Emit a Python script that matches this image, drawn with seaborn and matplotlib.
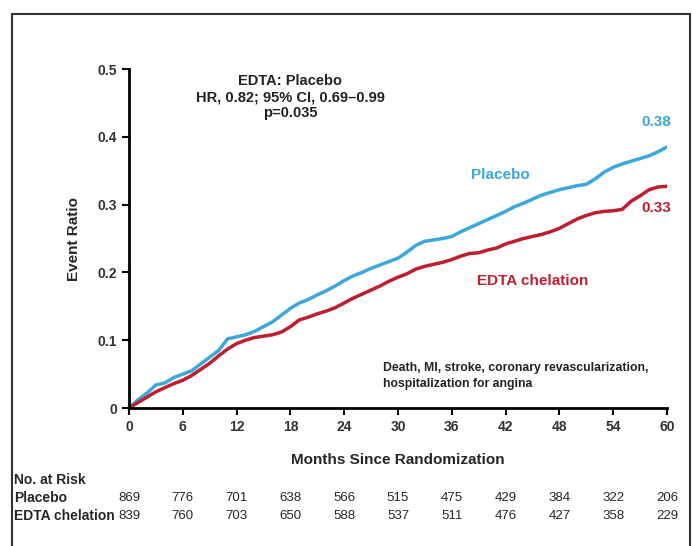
import numpy as np
import pandas as pd
import matplotlib
matplotlib.use('Agg')
import matplotlib.pyplot as plt
import seaborn as sns
from matplotlib.patches import Rectangle

# months since randomization and cumulative event ratio
months = [0, 1, 2, 3, 4, 5, 6, 7, 8, 9, 10, 11, 12, 13, 14, 15, 16, 17, 18, 19,
          20, 21, 22, 23, 24, 25, 26, 27, 28, 29, 30, 31, 32, 33, 34, 35, 36, 37, 38, 39,
          40, 41, 42, 43, 44, 45, 46, 47, 48, 49, 50, 51, 52, 53, 54, 55, 56, 57, 58, 59, 60]
placebo = [0, 0.012, 0.022, 0.034, 0.037, 0.045, 0.050, 0.055, 0.065, 0.075,
           0.085, 0.102, 0.105, 0.108, 0.113, 0.120, 0.127, 0.137, 0.147, 0.155,
           0.160, 0.167, 0.173, 0.180, 0.188, 0.195, 0.200, 0.206, 0.211, 0.216,
           0.221, 0.230, 0.240, 0.246, 0.248, 0.250, 0.253, 0.260, 0.266, 0.272,
           0.278, 0.284, 0.290, 0.297, 0.302, 0.308, 0.314, 0.318, 0.322, 0.325,
           0.328, 0.330, 0.338, 0.348, 0.355, 0.360, 0.364, 0.368, 0.372, 0.378, 0.385]
edta = [0, 0.008, 0.016, 0.024, 0.030, 0.036, 0.041, 0.048, 0.057, 0.066,
        0.077, 0.087, 0.095, 0.100, 0.104, 0.106, 0.108, 0.112, 0.120, 0.130,
        0.134, 0.139, 0.143, 0.148, 0.155, 0.162, 0.168, 0.174, 0.180, 0.187,
        0.193, 0.198, 0.205, 0.209, 0.212, 0.215, 0.219, 0.224, 0.228, 0.229,
        0.233, 0.236, 0.242, 0.246, 0.250, 0.253, 0.256, 0.260, 0.265, 0.272,
        0.279, 0.284, 0.288, 0.290, 0.291, 0.293, 0.305, 0.313, 0.322, 0.326, 0.327]

risk_months = [0, 6, 12, 18, 24, 30, 36, 42, 48, 54, 60]
risk_placebo = [869, 776, 701, 638, 566, 515, 475, 429, 384, 322, 206]
risk_edta = [839, 760, 703, 650, 588, 537, 511, 476, 427, 358, 229]

blue = '#3BA7DA'
red = '#BE1E2D'

sns.set_style('white')
plt.rcParams['font.family'] = ['Liberation Sans', 'DejaVu Sans']

df = pd.DataFrame({'Month': months, 'Placebo': placebo, 'EDTA': edta})

fig = plt.figure(figsize=(6.92, 5.46), dpi=100)
ax = fig.add_axes([0.1864, 0.2527, 0.7775, 0.6209])

sns.lineplot(data=df, x='Month', y='Placebo', ax=ax, color=blue, lw=2.5)
sns.lineplot(data=df, x='Month', y='EDTA', ax=ax, color=red, lw=2.5)

ax.set_xlim(0, 60)
ax.set_ylim(0, 0.5)
ax.set_xticks(risk_months)
ax.set_yticks([0, 0.1, 0.2, 0.3, 0.4, 0.5])
ax.set_yticklabels(['0', '0.1', '0.2', '0.3', '0.4', '0.5'])
ax.tick_params(axis='both', direction='out', length=5, width=1.5, labelsize=10,
               colors='black', labelcolor='#333333', left=True, bottom=True)
for lab in ax.get_xticklabels() + ax.get_yticklabels():
    lab.set_fontweight('bold')
for s in ['top', 'right']:
    ax.spines[s].set_visible(False)
for s in ['left', 'bottom']:
    ax.spines[s].set_linewidth(2)
    ax.spines[s].set_color('black')

ax.set_xlabel('Months Since Randomization', fontsize=11, fontweight='bold', labelpad=14)
ax.set_ylabel('Event Ratio', fontsize=11, fontweight='bold', labelpad=12)

ax.text(0.3, 0.985, 'EDTA: Placebo\nHR, 0.82; 95% CI, 0.69\u20130.99\np=0.035',
        transform=ax.transAxes, ha='center', va='top', fontsize=10.5,
        fontweight='bold', linespacing=1.2, color='#222222')

ax.text(0.69, 0.686, 'Placebo', color=blue, fontsize=11, fontweight='bold', ha='center', va='center', transform=ax.transAxes)
ax.text(0.98, 0.844, '0.38', color=blue, fontsize=11, fontweight='bold', ha='center', va='center', transform=ax.transAxes)
ax.text(0.98, 0.59, '0.33', color=red, fontsize=11, fontweight='bold', ha='center', va='center', transform=ax.transAxes)
ax.text(0.75, 0.376, 'EDTA chelation', color=red, fontsize=11, fontweight='bold', ha='center', va='center', transform=ax.transAxes)
ax.text(0.472, 0.095, 'Death, MI, stroke, coronary revascularization,\nhospitalization for angina',
        transform=ax.transAxes, ha='left', va='center', fontsize=8.8, fontweight='bold',
        linespacing=1.4, color='#222222')

# number at risk table
fig.text(14 / 692, 1 - 480 / 546, 'No. at Risk', fontsize=10, fontweight='bold', va='center', ha='left')
fig.text(14 / 692, 1 - 498 / 546, 'Placebo', fontsize=10, fontweight='bold', va='center', ha='left')
fig.text(14 / 692, 1 - 516 / 546, 'EDTA chelation', fontsize=10, fontweight='bold', va='center', ha='left')
trans = matplotlib.transforms.blended_transform_factory(ax.transData, fig.transFigure)
for m, p, e in zip(risk_months, risk_placebo, risk_edta):
    ax.text(m, 1 - 498 / 546, str(p), transform=trans, ha='center', va='center',
            fontsize=9.5, clip_on=False)
    ax.text(m, 1 - 516 / 546, str(e), transform=trans, ha='center', va='center',
            fontsize=9.5, clip_on=False)

# frame around the figure
fig.patches.append(Rectangle((12 / 692, -0.05), 678 / 692, 1.05 - 14 / 546,
                             transform=fig.transFigure, fill=False,
                             edgecolor='#333333', lw=1.5))

fig.savefig('out.png', dpi=100)
